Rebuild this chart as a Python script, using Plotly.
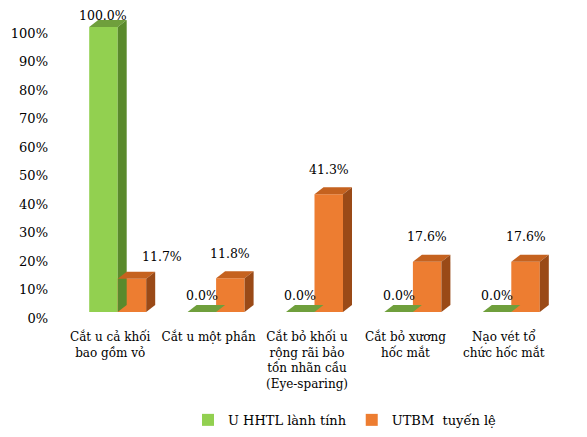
import plotly.graph_objects as go

categories = [
    "Cắt u cả khối<br>bao gồm vỏ",
    "Cắt u một phần",
    "Cắt bỏ khối u<br>rộng rãi bảo<br>tồn nhãn cầu<br>(Eye-sparing)",
    "Cắt bỏ xương<br>hốc mắt",
    "Nạo vét tổ<br>chức hốc mắt",
]
series_names = ["U HHTL lành tính", "UTBM  tuyến lệ"]
benign = [100.0, 0.0, 0.0, 0.0, 0.0]
malignant = [11.7, 11.8, 41.3, 17.6, 17.6]
tick_vals = [0, 10, 20, 30, 40, 50, 60, 70, 80, 90, 100]
tick_text = [f"{v}%" for v in tick_vals]

# styling (page has an 8px body margin, so the figure is 8px smaller)
W, H = 579, 429
ML, MR, MT, MB = 53, 34, 12, 112
PLOT_W = W - ML - MR
PLOT_H = H - MT - MB
X_RANGE = [-0.5, 4.5]
PX_PER_X = PLOT_W / (X_RANGE[1] - X_RANGE[0])
Y0_PX = 304 - MT          # pixel (from plot top) of value 0 for bars
PX_PER_Y = 2.85
Y_RANGE = [-(PLOT_H - Y0_PX) / PX_PER_Y, Y0_PX / PX_PER_Y]
LBL_SHIFT = 6 / PX_PER_Y
Y2_RANGE = [Y_RANGE[0] + LBL_SHIFT, Y_RANGE[1] + LBL_SHIFT]

BAR_W = 28.5 / PX_PER_X
OFF_G = -21 / PX_PER_X
OFF_O = 7.5 / PX_PER_X
DX = 9 / PX_PER_X
DY = 7 / PX_PER_Y

colors = {
    "g": ("#92D050", "#6F9F3C", "#5A8A2C"),
    "o": ("#ED7D31", "#C5621F", "#9A4A17"),
}
FONT = "DejaVu Serif"
FS_Y = 13
FS_X = 12
FS_LBL = 12.5
FS_LEG = 13

xs = list(range(len(categories)))
fig = go.Figure()
fig.add_trace(go.Bar(x=xs, y=benign, name=series_names[0], width=BAR_W, offset=OFF_G,
                     marker=dict(color=colors["g"][0], line=dict(width=0))))
fig.add_trace(go.Bar(x=xs, y=malignant, name=series_names[1], width=BAR_W, offset=OFF_O,
                     marker=dict(color=colors["o"][0], line=dict(width=0))))
fig.add_trace(go.Scatter(x=[0], y=[0], yaxis="y2", mode="markers",
                         marker=dict(opacity=0), showlegend=False, hoverinfo="skip"))

shapes = []
annotations = []
for key, vals, off in (("g", benign, OFF_G), ("o", malignant, OFF_O)):
    _, top_c, side_c = colors[key]
    for i, v in zip(xs, vals):
        x0 = i + off
        x1 = x0 + BAR_W
        shapes.append(dict(type="path", xref="x", yref="y",
                           path=f"M {x0},{v} L {x1},{v} L {x1+DX},{v+DY} L {x0+DX},{v+DY} Z",
                           fillcolor=top_c, line=dict(width=0), layer="above"))
        if v > 0:
            shapes.append(dict(type="path", xref="x", yref="y",
                               path=f"M {x1},0 L {x1},{v} L {x1+DX},{v+DY} L {x1+DX},{DY} Z",
                               fillcolor=side_c, line=dict(width=0), layer="above"))
        ys = 17 if key == "g" else 25
        xsft = 0
        if key == "g" and v >= 100:
            ys = 12
        if key == "o" and i == 0:
            xsft = 30
            ys = 22
        annotations.append(dict(x=x0 + BAR_W / 2, y=v, xref="x", yref="y",
                                text=f"{v:.1f}%", showarrow=False, yanchor="middle",
                                xanchor="center", yshift=ys, xshift=xsft,
                                font=dict(family=FONT, size=FS_LBL, color="#000000")))

fig.update_layout(
    width=W, height=H,
    margin=dict(l=ML, r=MR, t=MT, b=MB, autoexpand=False),
    paper_bgcolor="white", plot_bgcolor="white",
    barmode="group",
    font=dict(family=FONT, size=FS_Y, color="#000000"),
    shapes=shapes, annotations=annotations,
    showlegend=True,
    legend=dict(orientation="h", x=(180 - ML) / PLOT_W, xanchor="left", y=-0.262, yanchor="top",
                font=dict(family=FONT, size=FS_LEG), itemwidth=30, traceorder="normal"),
    xaxis=dict(range=X_RANGE, tickvals=xs, ticktext=categories, showgrid=False,
               zeroline=False, showline=False, ticks="", tickangle=0, automargin=False,
               ticklabelstandoff=3, tickfont=dict(family=FONT, size=FS_X)),
    yaxis=dict(range=Y_RANGE, showticklabels=False, showgrid=False, zeroline=False,
               showline=False, ticks="", automargin=False),
    yaxis2=dict(range=Y2_RANGE, overlaying="y", side="left", tickvals=tick_vals,
                ticktext=tick_text, showgrid=False, zeroline=False, showline=False,
                ticks="", automargin=False, ticklabelstandoff=12,
                tickfont=dict(family=FONT, size=FS_Y)),
)

fig.write_html("out.html")
